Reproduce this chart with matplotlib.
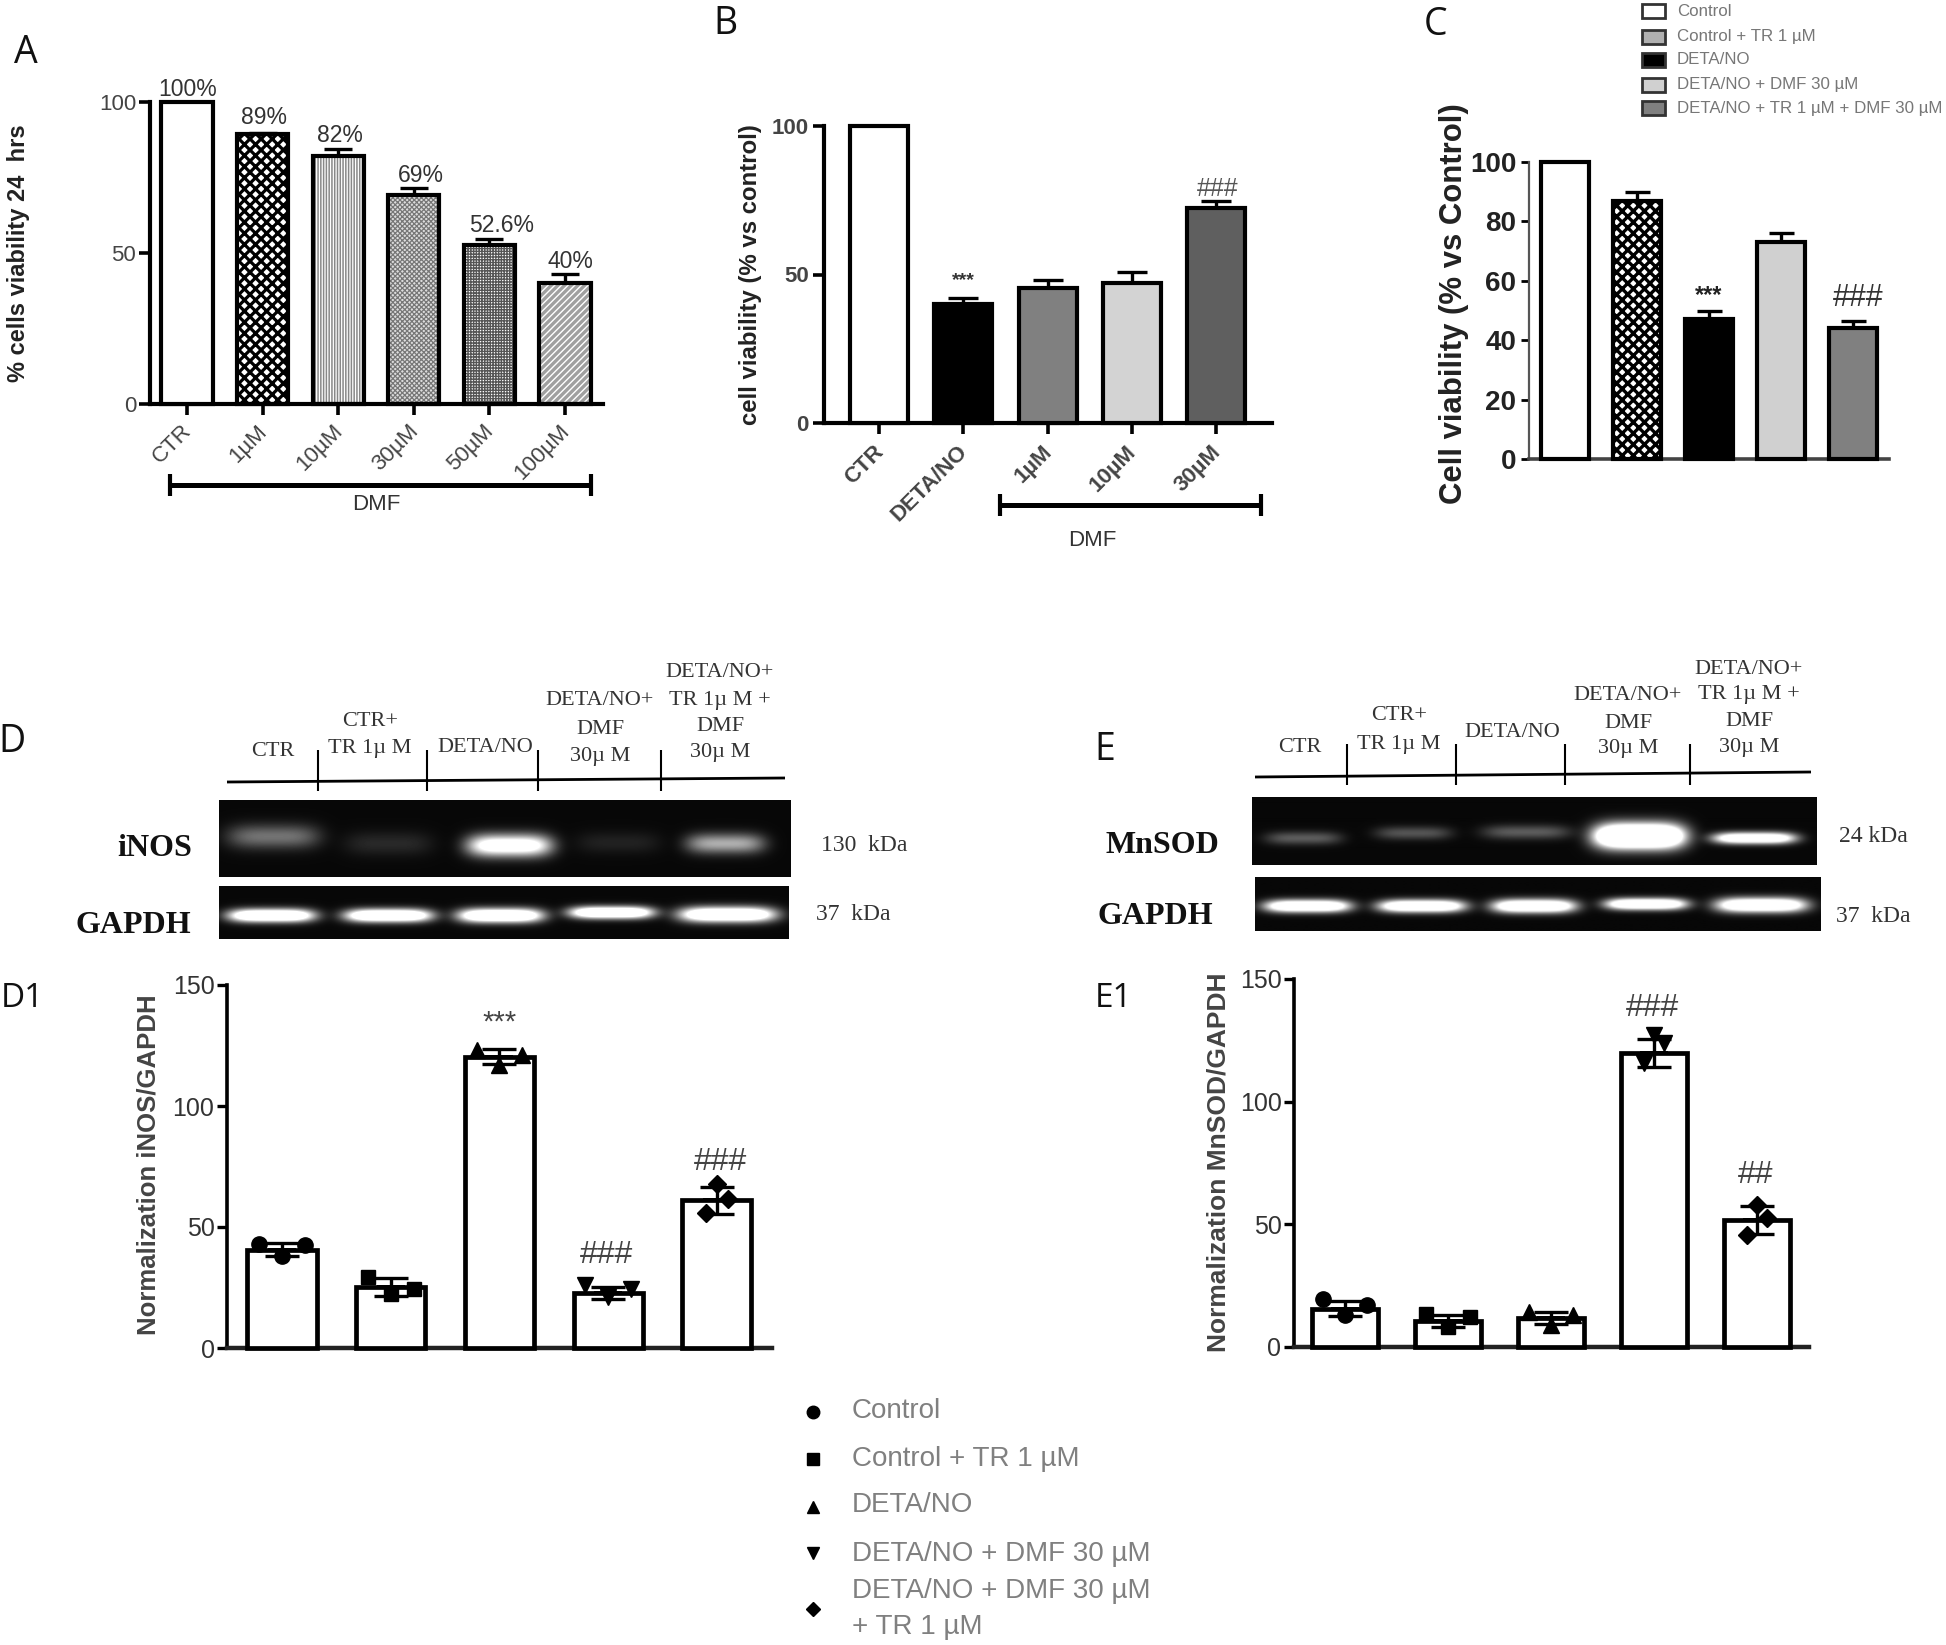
from matplotlib import pyplot as plt
from matplotlib.lines import Line2D
from matplotlib.patches import Rectangle
from matplotlib.transforms import ScaledTranslation
import numpy as np

W, H = 1946, 1645

plt.rcParams['font.family'] = ['Liberation Sans', 'DejaVu Sans']

# panel A
a_labels = ["CTR", "1µM", "10µM", "30µM", "50µM", "100µM"]
a_values = [100, 89.4, 82.2, 69.3, 52.8, 40]
a_errors = [0, 0.4, 2.4, 2.3, 1.9, 3.2]
a_texts = ["100%", "89%", "82%", "69%", "52.6%", "40%"]

# panel B
b_labels = ["CTR", "DETA/NO", "1µM", "10µM", "30µM"]
b_values = [100, 40, 45.5, 47, 72.5]
b_errors = [0, 2, 2.5, 3.8, 2.2]

# panel C
c_values = [100, 87, 47, 73, 44]
c_errors = [0, 3, 2.8, 3, 2.6]
c_legend = ["Control", "Control + TR 1 µM", "DETA/NO", "DETA/NO + DMF 30 µM",
            "DETA/NO + TR 1 µM + DMF 30 µM"]

# panel D1
d_values = [40.7, 25.2, 120.4, 22.7, 61]
d_errors = [2.6, 3.6, 3, 2.6, 5.6]
d_points = [[43, 38, 42.5], [29.4, 22.5, 24.5], [123, 117, 121],
            [26, 21, 24.5], [55.8, 67.7, 61.5]]

# panel E1
e_values = [15.6, 10.6, 11.8, 119.8, 51.7]
e_errors = [3, 2.6, 2.6, 5.8, 5.6]
e_points = [[19.7, 12.9, 17], [13.6, 8.2, 12.2], [14.3, 8.8, 12.9],
            [115.7, 127, 124], [45.6, 57.8, 52.4]]

swarm_offsets = [-0.21, 0, 0.21]
tight_offsets = [-0.1, 0, 0.1]
point_markers = ["o", "s", "^", "v", "D"]
point_sizes = [11, 10, 11, 11, 9]

# blots: band centre x, width, intensity, centre y, height (pixels of the figure)
inos_bands = [(273, 92, 0.42, 836, 24), (388, 88, 0.13, 843, 24), (509, 84, 1.25, 845, 22),
              (618, 84, 0.1, 842, 22), (725, 78, 0.65, 843, 20)]
d_gapdh_bands = [(271, 86, 1.6, 915, 13), (388, 87, 1.6, 915, 13), (500, 85, 1.6, 915, 14),
                 (611, 84, 1.6, 912, 12), (727, 96, 1.6, 914, 15)]
mnsod_bands = [(1303, 76, 0.33, 838, 13), (1413, 76, 0.3, 833, 13), (1526, 88, 0.33, 832, 14),
               (1639, 90, 2.2, 836, 24), (1754, 82, 1.5, 838, 11)]
e_gapdh_bands = [(1307, 85, 1.6, 906, 12), (1421, 86, 1.6, 906, 12), (1533, 83, 1.6, 906, 13),
                 (1645, 81, 1.6, 904, 11), (1760, 90, 1.6, 905, 14)]

fig = plt.figure(figsize=(W / 100, H / 100), dpi=100)
fig.patch.set_facecolor("white")


def text(x, y, s, size, color="#333333", weight="normal", family=None, rotation=0, ha="center"):
    # place a text with figure pixels, measured from the top left corner.
    kw = {"family": family} if family else {}
    fig.text(x / W, 1 - y / H, s, fontsize=size, color=color, fontweight=weight,
             rotation=rotation, ha=ha, va="center", linespacing=1.0, **kw)


def line(xs, ys, lw, color="black"):
    fig.add_artist(Line2D([x / W for x in xs], [1 - y / H for y in ys], lw=lw, color=color,
                          solid_capstyle="butt"))


def make_axes(left, right, top, bottom, first, step, ymax):
    ax = fig.add_axes([left / W, 1 - bottom / H, (right - left) / W, (bottom - top) / H])
    ax.set_xlim((left - first) / step, (right - first) / step)
    ax.set_ylim(0, ymax)
    ax.spines["top"].set_visible(False)
    ax.spines["right"].set_visible(False)
    ax.patch.set_alpha(0)
    return ax


def draw_bars(ax, values, errors, width, faces, hatches=None, hatch_colors=None, lw=3.0, cap=10):
    xs = np.arange(len(values))
    # upper error bars go under the bars.
    ax.errorbar(xs, values, yerr=[np.zeros(len(values)), errors], fmt="none", ecolor="black",
                elinewidth=lw * 0.8, capsize=cap, capthick=lw * 0.8, clip_on=False, zorder=1)
    for i, value in enumerate(values):
        if hatches and hatches[i]:
            under = ax.bar(i, value, width, color=faces[i], edgecolor=hatch_colors[i],
                           hatch=hatches[i][0], lw=0, zorder=2)[0]
            if hasattr(under, "set_hatch_linewidth"):
                under.set_hatch_linewidth(hatches[i][1])
            ax.bar(i, value, width, fill=False, edgecolor="black", lw=lw, zorder=3, clip_on=False)
        else:
            ax.bar(i, value, width, color=faces[i], edgecolor="black", lw=lw, zorder=3, clip_on=False)


def shift_ticklabels(ax, points):
    # the rotated labels sit a little left of their ticks.
    for label in ax.get_xticklabels():
        label.set_transform(label.get_transform() + ScaledTranslation(points / 72, 0, fig.dpi_scale_trans))


def draw_blot(left, right, top, bottom, bands):
    ax = fig.add_axes([left / W, 1 - bottom / H, (right - left) / W, (bottom - top) / H])
    xx, yy = np.meshgrid(np.arange(left, right), np.arange(top, bottom))
    img = np.full(xx.shape, 0.03)
    for cx, wid, level, cy, hei in bands:
        img += level * np.exp(-((xx - cx) / (wid / 2)) ** 4 - ((yy - cy) / (hei / 2)) ** 2)
    ax.imshow(np.clip(img, 0, 1), cmap="gray", vmin=0, vmax=1, aspect="auto", interpolation="bilinear")
    ax.axis("off")


# ---- panel A
ax = make_axes(150, 603, 102, 404, 187, 75.6, 100)
a_faces = ["white", "white", "white", "#dddddd", "white", "#a0a0a0"]
a_hatches = [None, ("xxx", 2.3), ("||||||", 1.1), ("xxxxxxx", 0.9), ("++++++", 1.0), ("/////", 1.0)]
a_hatch_colors = ["black", "black", "#888888", "#777777", "#555555", "white"]
draw_bars(ax, a_values, a_errors, 0.675, a_faces, a_hatches, a_hatch_colors, lw=3.0, cap=10)
ax.set_xticks(range(6), a_labels, rotation=45, ha="right", rotation_mode="anchor")
ax.set_yticks([0, 50, 100])
ax.tick_params(length=8, width=2.6, labelsize=16, labelcolor="#444444", pad=4)
ax.tick_params(axis="y", pad=2)
shift_ticklabels(ax, -4.5)
for s in ax.spines.values():
    s.set_linewidth(3)
text(26, 53, "A", 27, "#111111", family="Open Sans")
text(19, 253, "% cells viability 24  hrs", 17, "#222222", "bold", rotation=90)
for x, y, s in zip([188, 264, 340, 421, 502, 570], [89, 117, 135, 175, 226, 262], a_texts):
    text(x, y, s, 16.5)
line([170, 591], [485, 485], 3.6)
line([170, 170], [474, 496], 3)
line([591, 591], [474, 496], 3)
text(376, 505, "DMF", 16)

# ---- panel B
ax = make_axes(824, 1272, 126, 423, 879, 84.3, 100)
draw_bars(ax, b_values, b_errors, 0.688, ["white", "black", "#808080", "#d3d3d3", "#5f5f5f"], lw=3.0, cap=11)
ax.set_xticks(range(5), b_labels, rotation=45, ha="right", rotation_mode="anchor", fontweight="bold")
ax.set_yticks([0, 50, 100], ["0", "50", "100"], fontweight="bold")
ax.tick_params(length=8, width=2.6, labelsize=16, labelcolor="#444444", pad=5)
ax.tick_params(axis="y", pad=3)
shift_ticklabels(ax, -4.5)
for s in ax.spines.values():
    s.set_linewidth(3)
text(725, 24, "B", 27, "#111111", family="Open Sans")
text(751, 275, "cell viability (% vs control)", 17.3, "#222222", "bold", rotation=90)
text(963, 281, "***", 14, "#333333", "bold")
text(1218, 189, "###", 18, "#555555")
line([1000, 1261], [505, 505], 3.6)
line([1000, 1000], [494, 516], 3)
line([1261, 1261], [494, 516], 3)
text(1092, 540, "DMF", 16)

# ---- panel C
ax = make_axes(1529, 1889, 162, 459, 1565, 72, 100)
c_faces = ["white", "white", "black", "#d0d0d0", "#808080"]
c_hatches = [None, ("xxx", 2.4), None, None, None]
draw_bars(ax, c_values, c_errors, 0.68, c_faces, c_hatches, ["black"] * 5, lw=3.0, cap=9)
ax.set_xticks([])
ax.set_yticks([0, 20, 40, 60, 80, 100], ["0", "20", "40", "60", "80", "100"], fontweight="bold")
ax.tick_params(length=6, width=2, labelsize=20, labelcolor="#222222", pad=3)
ax.spines["left"].set_linewidth(1.6)
ax.spines["left"].set_color("#555555")
ax.spines["bottom"].set_linewidth(2.6)
ax.spines["bottom"].set_color("#444444")
text(1436, 25, "C", 27, "#111111", family="Open Sans")
text(1454, 304, "Cell viability (% vs Control)", 22.4, "#222222", "bold", rotation=90)
text(1709, 296, "***", 17, "#222222", "bold")
text(1858, 298, "###", 22, "#333333")
legend_faces = ["white", "#b0b0b0", "black", "#d0d0d0", "#808080"]
for y, face, label in zip([11, 37, 60, 85, 108], legend_faces, c_legend):
    fig.add_artist(Rectangle((1642 / W, 1 - (y + 7) / H), 23 / W, 14 / H, facecolor=face,
                             edgecolor="#333333", lw=2))
    text(1677, y, label, 12.2, "#777777", ha="left")

# ---- panel D header and blots
text(12, 742, "D", 27, "#111111", family="Open Sans")
serif = "Liberation Serif"
text(273, 752, "CTR", 16, family=serif)
for y, s in zip([721, 749], ["CTR+", "TR 1µ M"]):
    text(370, y, s, 16, family=serif)
text(485, 747, "DETA/NO", 16, family=serif)
for y, s in zip([701, 729, 756], ["DETA/NO+", "DMF", "30µ M"]):
    text(600, y, s, 16, family=serif)
for y, s in zip([673, 701, 727, 753], ["DETA/NO+", "TR 1µ M +", "DMF", "30µ M"]):
    text(720, y, s, 16, family=serif)
line([227, 785], [782, 778], 2)
for x in [318, 427, 538, 661]:
    line([x, x], [750, 791], 1.5)
draw_blot(219, 791, 800, 877, inos_bands)
draw_blot(219, 789, 886, 939, d_gapdh_bands)
text(155, 848, "iNOS", 23, "#111111", "bold", serif)
text(133, 925, "GAPDH", 23, "#111111", "bold", serif)
text(864, 845, "130  kDa", 17, family=serif)
text(853, 914, "37  kDa", 17, family=serif)

# ---- panel E header and blots
text(1105, 750, "E", 27, "#111111", family="Open Sans")
text(1300, 747, "CTR", 16, family=serif)
for y, s in zip([716, 744], ["CTR+", "TR 1µ M"]):
    text(1399, y, s, 16, family=serif)
text(1512, 732, "DETA/NO", 16, family=serif)
for y, s in zip([695, 723, 749], ["DETA/NO+", "DMF", "30µ M"]):
    text(1628, y, s, 16, family=serif)
for y, s in zip([670, 695, 721, 747], ["DETA/NO+", "TR 1µ M +", "DMF", "30µ M"]):
    text(1749, y, s, 16, family=serif)
line([1255, 1811], [777, 772], 2)
for x in [1347, 1456, 1565, 1690]:
    line([x, x], [744, 785], 1.5)
draw_blot(1252, 1817, 797, 865, mnsod_bands)
draw_blot(1255, 1820, 877, 931, e_gapdh_bands)
text(1162, 846, "MnSOD", 23, "#111111", "bold", serif)
text(1155, 917, "GAPDH", 23, "#111111", "bold", serif)
text(1873, 837, "24 kDa", 17, family=serif)
text(1873, 917, "37  kDa", 17, family=serif)


def draw_points(ax, points, offsets_by_bar):
    for i, vals in enumerate(points):
        offs = offsets_by_bar[i]
        ax.plot([i + o for o in offs], vals, ls="none", marker=point_markers[i], ms=point_sizes[i],
                color="black", clip_on=False, zorder=5)


# ---- panel D1
ax = make_axes(227, 772, 985, 1348, 282, 108.7, 150)
draw_bars(ax, d_values, [0] * 5, 0.635, ["white"] * 5, lw=3.4)
ax.errorbar(range(5), d_values, yerr=d_errors, fmt="none", ecolor="black", elinewidth=2.4,
            capsize=12, capthick=2.4, clip_on=False, zorder=4)
draw_points(ax, d_points, [swarm_offsets] * 4 + [tight_offsets])
ax.set_xticks([])
ax.set_yticks([0, 50, 100, 150])
ax.tick_params(length=7, width=2.4, labelsize=18, labelcolor="#333333", pad=2)
ax.spines["left"].set_linewidth(2.6)
ax.spines["bottom"].set_linewidth(3.2)
ax.spines["bottom"].set_color("#222222")
text(22, 999, "D1", 24, "#111111", family="Open Sans")
text(148, 1165, "Normalization iNOS/GAPDH", 18.5, "#444444", "bold", rotation=90)
text(500, 1023, "***", 21, "#444444")
text(606, 1255, "###", 23, "#444444")
text(720, 1162, "###", 23, "#444444")

# ---- panel E1
ax = make_axes(1294, 1809, 979, 1347, 1345, 103, 150)
draw_bars(ax, e_values, [0] * 5, 0.65, ["white"] * 5, lw=3.4)
ax.errorbar(range(5), e_values, yerr=e_errors, fmt="none", ecolor="black", elinewidth=2.4,
            capsize=12, capthick=2.4, clip_on=False, zorder=4)
draw_points(ax, e_points, [swarm_offsets] * 3 + [tight_offsets] * 2)
ax.set_xticks([])
ax.set_yticks([0, 50, 100, 150])
ax.tick_params(length=7, width=2.4, labelsize=18, labelcolor="#333333", pad=2)
ax.spines["left"].set_linewidth(2.6)
ax.spines["bottom"].set_linewidth(3.2)
ax.spines["bottom"].set_color("#222222")
text(1114, 999, "E1", 24, "#111111", family="Open Sans")
text(1219, 1162, "Normalization MnSOD/GAPDH", 19, "#444444", "bold", rotation=90)
text(1653, 1008, "###", 23, "#444444")
text(1756, 1175, "##", 23, "#444444")

# ---- legend at the bottom
for y, marker, size in zip([1412, 1459, 1507, 1553, 1609], point_markers, [9, 9, 9, 9, 7]):
    fig.add_artist(Line2D([813 / W], [1 - y / H], marker=marker, ms=size, color="black", ls="none"))
legend_rows = ["Control", "Control + TR 1 µM", "DETA/NO", "DETA/NO + DMF 30 µM",
               "DETA/NO + DMF 30 µM", "+ TR 1 µM"]
for y, s in zip([1411, 1459, 1505, 1554, 1591, 1627], legend_rows):
    text(852, y, s, 20, "#808080", ha="left")

fig.savefig("out.png", dpi=100, facecolor="white")
